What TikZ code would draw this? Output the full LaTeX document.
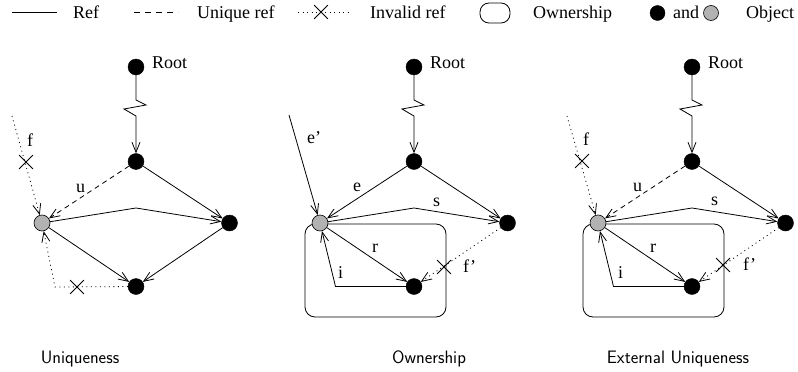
\documentclass[tikz,border=0pt]{standalone}
\usepackage{fontspec}
\setmainfont{Liberation Serif}
\usetikzlibrary{arrows.meta,shapes.misc}
\begin{document}
\begin{tikzpicture}[x=1pt,y=-1pt,
  obj/.style={circle,fill=black,draw=black,inner sep=0pt,minimum size=16pt},
  gobj/.style={circle,fill=black!30,draw=black,line width=0.6pt,inner sep=0pt,minimum size=16pt},
  ref/.style={line width=0.8pt,-{Straight Barb[length=10pt,width=8pt]}},
  plain/.style={line width=0.8pt},
  uref/.style={ref,dash pattern=on 5pt off 4pt},
  iref/.style={ref,dash pattern=on 1pt off 3.5pt},
  xm/.style={cross out,draw,line width=0.8pt,minimum size=13pt,inner sep=0pt},
  lbl/.style={font=\fontsize{18}{18}\selectfont,inner sep=0pt,anchor=base west},
  captext/.style={font=\sffamily\fontsize{18}{20}\selectfont,inner sep=0pt,anchor=base},
  own/.style={draw,line width=0.8pt,rounded corners=10pt}
]
\useasboundingbox (0,0) rectangle (798,372);

% ---------- legend ----------
\coordinate (l1a) at (12,12); \coordinate (l1b) at (57,12);
\draw[plain] (l1a) -- (l1b);
\node[lbl] (lref) at (73,18) {Ref};
\coordinate (l2a) at (134,12); \coordinate (l2b) at (178,12);
\draw[plain,dash pattern=on 6pt off 5pt] (l2a) -- (l2b);
\node[lbl] (luref) at (197,18) {Unique ref};
\coordinate (l3a) at (298,12); \coordinate (l3b) at (352,12);
\draw[plain,dash pattern=on 1pt off 3.5pt] (l3a) -- (l3b);
\node[xm] (l3x) at (321,12) {};
\node[lbl] (liref) at (370,18) {Invalid ref};
\node[own,minimum width=30pt,minimum height=20pt,rounded corners=9pt,inner sep=0pt] (lown) at (495,13) {};
\node[lbl] (lownl) at (533,18) {Ownership};
\node[obj,minimum size=15pt] (lobj) at (657.5,13) {};
\node[lbl] (land) at (673,18) {and};
\node[gobj,minimum size=15pt] (lgobj) at (711,13) {};
\node[lbl] (lobjl) at (746,18) {Object};

% ---------- panel 1 : Uniqueness ----------
\begin{scope}[name prefix=p1-]
  \node[obj] (root) at (136,67) {};
  \node[lbl] (rootl) at (152,68) {Root};
  \node[obj] (a) at (136,161.5) {};
  \node[gobj] (g) at (42,223) {};
  \node[obj] (r) at (229.5,223) {};
  \node[obj] (b) at (136,286.5) {};
  \coordinate (z1) at (136,100); \coordinate (z2) at (146,105);
  \coordinate (z3) at (124,109); \coordinate (z4) at (136,116);
  \draw[ref] (root) -- (z1) -- (z2) -- (z3) -- (z4) -- (a);
  \coordinate (bend) at (136,208);
  \draw[ref] (a) -- (r);
  \draw[ref] (g) -- (bend) -- (r);
  \draw[uref] (a) -- (g);
  \node[lbl] (ul) at (76,192) {u};
  \draw[ref] (g) -- (b);
  \draw[ref] (r) -- (b);
  \coordinate (fs) at (12,116);
  \draw[iref] (fs) -- (g);
  \node[xm] (fx) at (26,162) {};
  \node[lbl] (fl) at (27,146) {f};
  \coordinate (c) at (55,287);
  \draw[iref] (b) -- (c) -- (g);
  \node[xm] (cx) at (77,287) {};
\end{scope}

% ---------- panel 2 : Ownership ----------
\begin{scope}[name prefix=p2-,shift={(278,0)}]
  \draw[own] (27,224) rectangle (168,317);
  \node[obj] (root) at (136,67) {};
  \node[lbl] (rootl) at (152,68) {Root};
  \node[obj] (a) at (136,161.5) {};
  \node[gobj] (g) at (42,223) {};
  \node[obj] (r) at (229.5,223) {};
  \node[obj] (b) at (136,286.5) {};
  \coordinate (z1) at (136,100); \coordinate (z2) at (146,105);
  \coordinate (z3) at (124,109); \coordinate (z4) at (136,116);
  \draw[ref] (root) -- (z1) -- (z2) -- (z3) -- (z4) -- (a);
  \coordinate (bend) at (136,208);
  \draw[ref] (a) -- (r);
  \draw[ref] (a) -- (g);
  \node[lbl] (el) at (75,191) {e};
  \draw[ref] (g) -- (bend) -- (r);
  \node[lbl] (sl) at (155,206) {s};
  \draw[ref] (g) -- (b);
  \node[lbl] (rl) at (94,252) {r};
  \coordinate (ic) at (57.5,286.5);
  \draw[ref] (b) -- (ic) -- (g);
  \node[lbl] (il) at (60,278) {i};
  \coordinate (es) at (11,115);
  \draw[ref] (es) -- (g);
  \node[lbl] (epl) at (29,143) {e'};
  \draw[iref] (r) -- (b);
  \node[xm] (fx) at (166,267) {};
  \node[lbl] (fpl) at (185,272) {f'};
\end{scope}

% ---------- panel 3 : External Uniqueness ----------
\begin{scope}[name prefix=p3-,shift={(556,0)}]
  \draw[own] (27,224) rectangle (168,317);
  \node[obj] (root) at (136,67) {};
  \node[lbl] (rootl) at (152,68) {Root};
  \node[obj] (a) at (136,161.5) {};
  \node[gobj] (g) at (42,223) {};
  \node[obj] (r) at (229.5,223) {};
  \node[obj] (b) at (136,286.5) {};
  \coordinate (z1) at (136,100); \coordinate (z2) at (146,105);
  \coordinate (z3) at (124,109); \coordinate (z4) at (136,116);
  \draw[ref] (root) -- (z1) -- (z2) -- (z3) -- (z4) -- (a);
  \coordinate (bend) at (136,208);
  \draw[ref] (a) -- (r);
  \draw[uref] (a) -- (g);
  \node[lbl] (ul) at (77,191) {u};
  \draw[ref] (g) -- (bend) -- (r);
  \node[lbl] (sl) at (155,205) {s};
  \draw[ref] (g) -- (b);
  \node[lbl] (rl) at (94,252) {r};
  \coordinate (ic) at (57.5,286.5);
  \draw[ref] (b) -- (ic) -- (g);
  \node[lbl] (il) at (62,278) {i};
  \coordinate (fs) at (11,116);
  \draw[iref] (fs) -- (g);
  \node[xm] (fx) at (26,161) {};
  \node[lbl] (fl) at (27,145) {f};
  \draw[iref] (r) -- (b);
  \node[xm] (fpx) at (167,265) {};
  \node[lbl] (fpl) at (187,270) {f'};
\end{scope}

% ---------- captions ----------
\node[captext] (cap1) at (80,363) {Uniqueness};
\node[captext] (cap2) at (429,363) {Ownership};
\node[captext] (cap3) at (678,363) {External Uniqueness};
\end{tikzpicture}
\end{document}
